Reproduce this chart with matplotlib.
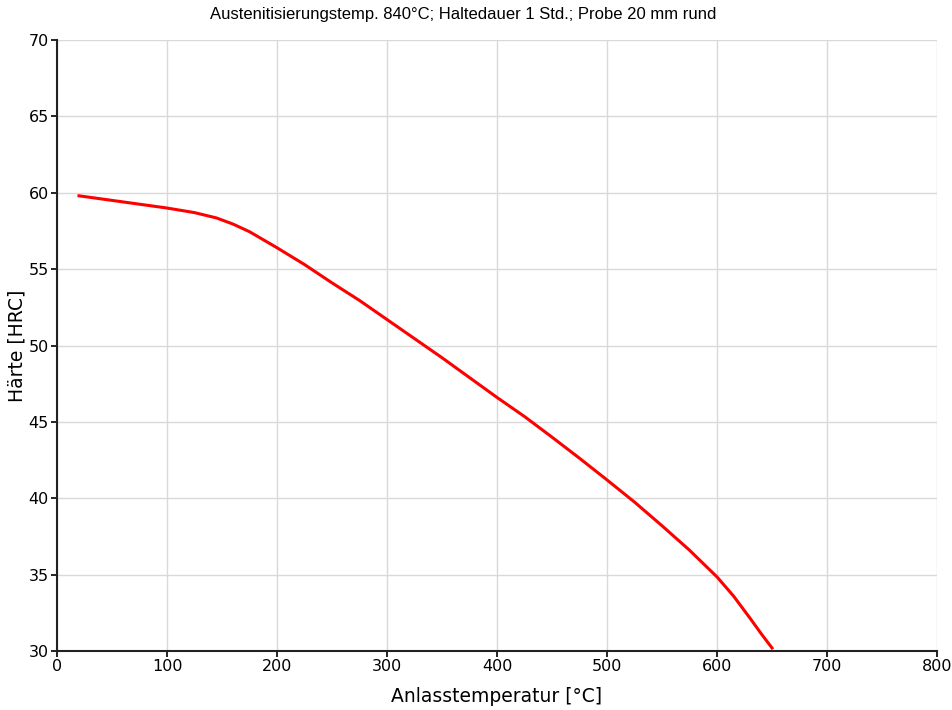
import matplotlib
matplotlib.use("Agg")
import matplotlib.pyplot as plt

temp = [20, 50, 75, 100, 125, 145, 160, 175, 200, 225, 250, 275, 300, 325, 350, 375,
        400, 425, 450, 475, 500, 525, 550, 575, 600, 615, 630, 640, 650]
hardness = [59.8, 59.5, 59.25, 59.0, 58.7, 58.35, 57.95, 57.45, 56.4, 55.3, 54.1, 52.95,
            51.7, 50.45, 49.2, 47.9, 46.6, 45.35, 44.0, 42.62, 41.2, 39.75, 38.2, 36.6,
            34.85, 33.6, 32.15, 31.15, 30.2]

title = "Austenitisierungstemp. 840°C; Haltedauer 1 Std.; Probe 20 mm rund"
xlabel = "Anlasstemperatur [°C]"
ylabel = "Härte [HRC]"

fig = plt.figure(figsize=(9.53, 7.10), dpi=100)
ax = fig.add_axes([57/953, 59/710, 880/953, 611/710])
ax.plot(temp, hardness, color="#ff0000", lw=2.2, solid_joinstyle="round")
ax.set_xlim(0, 800)
ax.set_ylim(30, 70)
ax.set_xticks(range(0, 801, 100))
ax.set_yticks(range(30, 71, 5))
ax.grid(True, color="#d9d9d9", lw=1)
ax.set_axisbelow(True)
for s in ["top", "right"]:
    ax.spines[s].set_visible(False)
for s in ["left", "bottom"]:
    ax.spines[s].set_linewidth(1.5)
    ax.spines[s].set_color("#222222")
ax.tick_params(labelsize=11.5, length=4, width=1.2, pad=2)
ax.set_xlabel(xlabel, fontsize=13.5, labelpad=9)
ax.set_ylabel(ylabel, fontsize=13.5, va="center")
ax.yaxis.set_label_coords(-(57 - 17) / 880, 0.5)
fig.text(463/953, 1 - 14/710, title, ha="center", va="center", fontsize=12, family="Liberation Sans")
fig.savefig("out.png", dpi=100)
